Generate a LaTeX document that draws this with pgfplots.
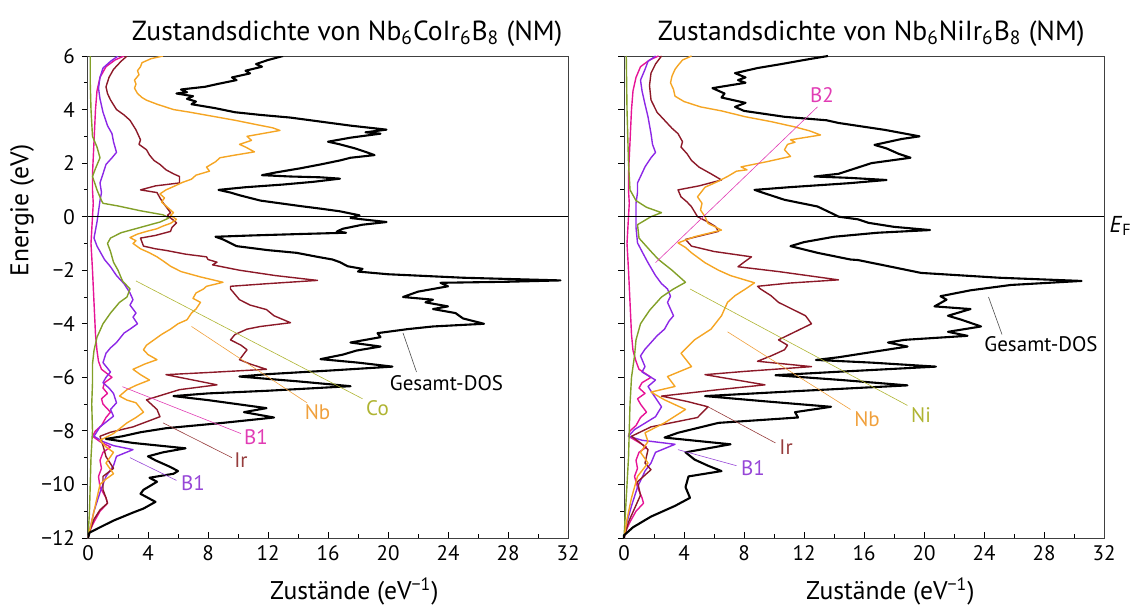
\documentclass[border=0pt]{standalone}
\usepackage{fontspec}
\setmainfont{PT Sans}
\usepackage{pgfplots}
\pgfplotsset{compat=1.18}
\definecolor{cNb}{RGB}{245,165,35}
\definecolor{cIr}{RGB}{140,25,40}
\definecolor{cCo}{RGB}{130,160,40}
\definecolor{cBa}{RGB}{140,40,230}
\definecolor{cBb}{RGB}{230,20,150}
\definecolor{lNb}{RGB}{240,160,60}
\definecolor{lCo}{RGB}{175,180,50}
\definecolor{lIr}{RGB}{150,60,60}
\definecolor{lBb}{RGB}{225,60,180}
\definecolor{lBa}{RGB}{150,70,215}
\tikzset{
  tot/.style={black, line width=1.05pt},
  part/.style={line width=0.7pt},
  ptr/.style={line width=0.3pt},
  lab/.style={font=\fontsize{10.5}{12}\selectfont, inner sep=1pt},
}
\pgfplotsset{dosaxis/.style={
  scale only axis, width=240pt, height=241pt,
  xmin=0, xmax=32, ymin=-12, ymax=6,
  xtick={0,4,...,32}, ytick={-12,-10,...,6},
  minor x tick num=1, minor y tick num=1,
  xtick align=inside, ytick align=outside, tick pos=left,
  major tick length=3pt, minor tick length=2pt,
  tick style={black, line width=0.4pt},
  axis line style={line width=0.5pt, black!75},
  tick label style={font=\fontsize{10.5}{12}\selectfont},
  label style={font=\fontsize{12.8}{14}\selectfont},
  title style={font=\fontsize{13.8}{15}\selectfont, anchor=base, yshift=2pt},
  xlabel={Zustände (eV\textsuperscript{−1})},
  xlabel style={at={(axis description cs:0.555,0)}, anchor=base, yshift=-30.5pt},
  /pgf/number format/assume math mode=true,
  every axis plot/.append style={line join=round},
}}
\begin{document}
\begin{tikzpicture}
\useasboundingbox (-44pt,-34pt) rectangle (525pt,269pt);
% ---------------- left panel ----------------
\begin{axis}[dosaxis, at={(0pt,0pt)}, anchor=south west,
  title={Zustandsdichte von Nb\textsubscript{6}CoIr\textsubscript{6}B\textsubscript{8} (NM)},
  title style={at={(axis description cs:0.54,1)}},
  ylabel={Energie (eV)}, ylabel style={at={(axis description cs:-0.1375,0.68)}, anchor=center},
  yticklabels={−12,−10,−8,−6,−4,−2,0,2,4,6}]
% B2 (magenta)
\addplot[part, cBb] coordinates {(2.4,6.0) (1.8,5.85) (1.2,5.6) (0.8,5.2) (0.6,4.7) (0.5,4.0) (0.45,3.4) (0.4,2.8) (0.35,2.2) (0.3,1.6) (0.3,1.0) (0.35,0.5) (0.3,0.0) (0.25,-0.5) (0.2,-1.0) (0.25,-1.5) (0.3,-2.0) (0.35,-2.6) (0.4,-3.2) (0.45,-3.8) (0.5,-4.4) (0.6,-5.0) (0.7,-5.4) (0.9,-5.7) (1.6,-6.0) (1.1,-6.2) (1.0,-6.4) (1.3,-6.6) (0.9,-6.8) (1.0,-7.0) (1.5,-7.3) (1.2,-7.5) (0.9,-7.8) (0.5,-8.0) (0.3,-8.2) (0.8,-8.4) (1.5,-8.6) (1.0,-8.8) (0.8,-9.1) (0.9,-9.4) (0.7,-9.7) (0.8,-10.1) (1.2,-10.5) (1.3,-10.7) (0.8,-11.0) (0.4,-11.4) (0.15,-11.7) (0,-12)};
% B1 (purple)
\addplot[part, cBa] coordinates {(2.0,6.0) (1.5,5.8) (1.0,5.55) (0.8,5.2) (0.7,4.8) (0.8,4.4) (1.0,3.9) (1.3,3.4) (1.6,3.1) (1.7,2.8) (1.9,2.4) (1.6,2.2) (1.2,1.95) (1.0,1.6) (0.8,1.26) (0.9,0.9) (0.8,0.6) (0.7,0.2) (0.6,-0.2) (0.5,-0.5) (0.4,-0.8) (0.6,-1.1) (0.8,-1.3) (1.1,-1.6) (1.5,-1.87) (1.9,-2.2) (2.4,-2.5) (2.8,-2.85) (3.0,-3.1) (2.8,-3.3) (3.2,-3.6) (3.0,-3.75) (3.3,-4.0) (2.8,-4.2) (2.4,-4.35) (1.9,-4.7) (1.5,-4.9) (1.2,-5.1) (1.0,-5.45) (1.5,-5.8) (1.2,-6.0) (1.0,-6.2) (1.4,-6.4) (1.7,-6.6) (1.9,-6.95) (1.5,-7.2) (1.7,-7.45) (0.8,-7.85) (0.4,-8.2) (1.0,-8.4) (1.7,-8.55) (3.0,-8.7) (1.9,-8.95) (1.7,-9.3) (1.2,-9.7) (0.8,-10.3) (0.4,-11.0) (0.2,-11.5) (0,-12)};
% Co (olive)
\addplot[part, cCo] coordinates {(0.15,6) (0.15,5) (0.2,4) (0.3,3) (0.6,2.6) (0.8,2.2) (0.5,1.8) (0.3,1.5) (0.6,1.0) (0.9,0.6) (1.0,0.5) (2.0,0.4) (3.5,0.22) (5.0,0.07) (5.4,-0.05) (4.8,-0.2) (3.5,-0.4) (2.2,-0.6) (1.5,-0.8) (1.3,-1.0) (1.5,-1.3) (1.7,-1.7) (2.0,-2.0) (2.3,-2.4) (2.8,-2.7) (2.6,-3.0) (2.1,-3.2) (1.5,-3.6) (1.0,-4.0) (0.6,-4.5) (0.4,-5.0) (0.3,-5.5) (0.3,-6.2) (0.25,-7) (0.3,-8) (0.2,-9) (0.15,-10) (0.1,-11) (0,-12)};
% Ir (dark red)
\addplot[part, cIr] coordinates {(2.6,6.0) (2.2,5.8) (1.7,5.5) (1.4,5.2) (1.2,4.85) (1.3,4.6) (1.5,4.36) (1.9,4.0) (2.4,3.8) (2.8,3.6) (3.2,3.24) (3.5,2.87) (3.4,2.7) (3.9,2.5) (4.1,2.3) (4.4,2.1) (4.8,1.95) (5.2,1.75) (5.7,1.6) (6.1,1.5) (6.1,1.26) (4.5,1.15) (3.5,1.0) (4.6,0.9) (4.8,0.7) (5.0,0.52) (5.3,0.3) (5.5,0.15) (5.3,0.05) (5.9,-0.23) (5.6,-0.4) (5.5,-0.55) (4.5,-0.7) (3.5,-0.8) (3.7,-1.1) (4.5,-1.2) (5.2,-1.26) (6.5,-1.4) (7.9,-1.5) (8.0,-1.6) (8.6,-1.7) (8.3,-1.8) (10.1,-2.0) (12.5,-2.2) (15.3,-2.38) (12.0,-2.5) (9.5,-2.6) (9.5,-2.7) (10.1,-3.1) (10.8,-3.3) (11.9,-3.47) (12.4,-3.7) (13.5,-3.96) (11.5,-4.1) (10.6,-4.2) (9.8,-4.4) (9.5,-4.6) (10.2,-4.8) (10.6,-4.97) (10.1,-5.34) (10.8,-5.5) (11.9,-5.7) (8.0,-5.82) (5.2,-5.9) (7.0,-6.1) (8.6,-6.28) (6.1,-6.46) (3.9,-6.84) (4.6,-7.2) (4.8,-7.47) (3.0,-7.85) (1.5,-8.05) (0.8,-8.2) (1.0,-8.55) (1.2,-8.96) (1.7,-9.4) (1.0,-9.7) (1.0,-10.2) (1.2,-10.5) (1.3,-10.7) (0.8,-10.95) (0.4,-11.3) (0.2,-11.6) (0,-12)};
% Nb (orange)
\addplot[part, cNb] coordinates {(5.0,6.0) (4.2,5.9) (3.6,5.75) (3.5,5.6) (3.3,5.45) (3.4,5.3) (3.1,5.1) (3.2,4.95) (3.1,4.8) (3.3,4.6) (3.6,4.45) (3.9,4.35) (4.6,4.2) (5.7,4.0) (6.8,3.9) (8.3,3.75) (9.8,3.6) (11.3,3.43) (12.3,3.32) (12.8,3.22) (11.8,3.12) (10.6,3.0) (10.9,2.85) (10.1,2.7) (10.5,2.6) (11.1,2.42) (9.8,2.3) (8.8,2.2) (8.5,2.05) (7.9,1.85) (8.1,1.7) (7.2,1.55) (6.9,1.4) (6.3,1.28) (5.8,1.15) (5.2,1.0) (4.8,0.85) (5.1,0.7) (4.9,0.55) (5.2,0.4) (5.7,0.15) (5.5,0.05) (5.9,-0.1) (5.5,-0.25) (5.0,-0.35) (4.6,-0.45) (3.9,-0.55) (3.3,-0.65) (2.8,-0.78) (3.2,-0.9) (3.0,-1.0) (3.5,-1.2) (4.1,-1.35) (4.6,-1.5) (5.0,-1.65) (5.5,-1.85) (6.2,-2.05) (7.5,-2.25) (9.0,-2.45) (7.9,-2.6) (7.7,-2.7) (7.2,-2.85) (7.0,-3.05) (7.5,-3.2) (7.2,-3.45) (6.9,-3.6) (6.6,-3.85) (6.0,-4.0) (5.5,-4.2) (4.9,-4.4) (4.4,-4.6) (3.9,-4.8) (3.7,-4.97) (4.0,-5.15) (4.6,-5.34) (3.8,-5.5) (3.0,-5.7) (3.5,-5.9) (4.1,-6.1) (3.2,-6.3) (2.6,-6.46) (2.1,-6.7) (2.6,-6.85) (3.2,-6.95) (3.7,-7.3) (3.2,-7.5) (2.6,-7.7) (1.7,-8.1) (0.8,-8.35) (1.2,-8.6) (1.7,-8.8) (1.2,-9.2) (1.7,-9.6) (1.2,-9.8) (0.8,-10.0) (0.6,-10.5) (0.4,-11.0) (0.2,-11.5) (0,-12)};
% total DOS
\addplot[tot] coordinates {(13.0,6.0) (12.0,5.85) (11.2,5.7) (11.6,5.6) (10.5,5.45) (10.8,5.35) (9.6,5.2) (9.9,5.1) (8.6,4.95) (7.8,4.85) (6.2,4.75) (6.6,4.65) (5.9,4.6) (7.0,4.5) (6.6,4.4) (7.2,4.3) (6.9,4.2) (8.5,4.05) (9.8,3.9) (11.5,3.8) (13.5,3.7) (15.5,3.55) (17.5,3.4) (19.9,3.25) (18.5,3.15) (19.5,3.1) (17.5,2.95) (16.0,2.8) (16.8,2.7) (17.8,2.55) (18.5,2.42) (19.1,2.3) (17.5,2.2) (16.8,2.1) (15.5,1.95) (14.1,1.8) (12.5,1.65) (11.6,1.55) (13.5,1.5) (15.5,1.47) (16.8,1.42) (15.0,1.3) (13.0,1.2) (10.5,1.1) (8.7,1.0) (9.5,0.9) (10.1,0.8) (11.5,0.6) (12.8,0.5) (14.1,0.4) (15.5,0.3) (16.8,0.2) (18.1,0.05) (17.5,-0.05) (19.9,-0.2) (18.3,-0.3) (17.0,-0.45) (16.6,-0.55) (17.2,-0.6) (14.0,-0.65) (11.0,-0.7) (8.5,-0.75) (9.0,-0.85) (9.9,-1.1) (12.0,-1.25) (13.9,-1.35) (15.3,-1.5) (16.3,-1.6) (16.8,-1.7) (17.3,-1.85) (18.3,-1.95) (18.0,-2.05) (20.0,-2.15) (25.0,-2.28) (31.5,-2.38) (28.0,-2.43) (23.5,-2.47) (24.0,-2.6) (22.0,-2.8) (21.0,-3.0) (23.0,-3.1) (22.5,-3.2) (24.0,-3.35) (23.0,-3.45) (24.5,-3.6) (25.0,-3.8) (26.4,-4.0) (23.0,-4.1) (21.3,-4.2) (19.3,-4.35) (19.5,-4.5) (17.5,-4.7) (19.5,-4.85) (17.9,-5.0) (17.0,-5.15) (15.5,-5.32) (18.0,-5.45) (20.3,-5.6) (16.0,-5.75) (12.0,-5.88) (10.1,-5.97) (14.0,-6.15) (17.5,-6.33) (12.0,-6.5) (8.0,-6.6) (5.7,-6.7) (8.0,-6.85) (11.9,-7.15) (10.4,-7.3) (12.4,-7.5) (9.0,-7.7) (5.2,-7.9) (3.5,-8.05) (2.3,-8.2) (1.2,-8.3) (3.0,-8.45) (6.5,-8.65) (5.0,-8.8) (4.0,-8.95) (4.5,-9.1) (5.5,-9.35) (6.0,-9.5) (5.7,-9.6) (4.1,-9.75) (4.6,-9.9) (3.7,-10.2) (3.5,-10.35) (4.5,-10.65) (3.7,-10.9) (3.0,-11.05) (1.7,-11.35) (0.8,-11.6) (0.1,-11.8) (0,-12)};
% Fermi level
\addplot[black, line width=0.7pt] coordinates {(0,0) (32,0)};
% pointers and labels
\draw[ptr, black!70] (axis cs:21.0,-4.34) -- (axis cs:21.9,-5.8);
\node[lab, anchor=north] at (axis cs:23.9,-5.85) {Gesamt-DOS};
\draw[ptr, lNb] (axis cs:6.9,-4.1) -- (axis cs:14.6,-6.95);
\node[lab, text=lNb] at (axis cs:15.3,-7.3) {Nb};
\draw[ptr, lCo] (axis cs:3.2,-2.4) -- (axis cs:18.3,-6.8);
\node[lab, text=lCo] at (axis cs:19.3,-7.15) {Co};
\draw[ptr, lBb] (axis cs:2.3,-6.35) -- (axis cs:10.2,-8.1);
\node[lab, text=lBb] at (axis cs:11.2,-8.25) {B1};
\draw[ptr, lIr] (axis cs:5.0,-7.7) -- (axis cs:9.6,-9.0);
\node[lab, text=lIr] at (axis cs:10.2,-9.1) {Ir};
\draw[ptr, lBa] (axis cs:2.8,-9.0) -- (axis cs:5.9,-9.85);
\node[lab, text=lBa] at (axis cs:7.0,-9.95) {B1};
\end{axis}
% ---------------- right panel ----------------
\begin{axis}[dosaxis, at={(268pt,0pt)}, anchor=south west, clip=false,
  title={Zustandsdichte von Nb\textsubscript{6}NiIr\textsubscript{6}B\textsubscript{8} (NM)},
  title style={at={(axis description cs:0.515,1)}},
  yticklabels={}]
% B2 (magenta)
\addplot[part, cBb] coordinates {(2.3,6.0) (1.7,5.85) (1.1,5.6) (0.8,5.2) (0.6,4.7) (0.5,4.0) (0.45,3.4) (0.4,2.8) (0.35,2.2) (0.3,1.6) (0.3,1.0) (0.35,0.5) (0.3,0.0) (0.25,-0.5) (0.2,-1.0) (0.25,-1.5) (0.3,-2.0) (0.35,-2.6) (0.4,-3.2) (0.45,-3.8) (0.5,-4.4) (0.6,-5.0) (0.8,-5.4) (1.0,-5.7) (1.8,-6.0) (1.2,-6.2) (1.0,-6.4) (1.4,-6.6) (0.9,-6.8) (1.1,-7.0) (1.5,-7.3) (1.1,-7.5) (0.8,-7.8) (0.4,-8.0) (0.3,-8.2) (0.9,-8.4) (1.5,-8.6) (1.0,-8.8) (0.8,-9.1) (0.9,-9.4) (0.7,-9.7) (0.9,-10.1) (1.2,-10.5) (1.3,-10.7) (0.8,-11.0) (0.4,-11.4) (0.15,-11.7) (0,-12)};
% B1 (purple)
\addplot[part, cBa] coordinates {(2.1,6.0) (1.6,5.8) (1.4,5.5) (1.1,5.1) (1.2,4.7) (1.4,4.2) (1.6,3.73) (1.8,3.1) (1.9,2.7) (2.1,2.4) (1.8,2.2) (1.4,1.86) (1.1,1.5) (0.9,1.26) (0.9,0.9) (0.8,0.5) (0.8,0.0) (0.8,-0.4) (0.9,-0.98) (1.2,-1.3) (1.6,-1.72) (2.1,-2.2) (2.5,-2.5) (2.9,-2.7) (3.1,-2.97) (2.9,-3.2) (3.3,-3.7) (3.0,-3.9) (2.7,-4.2) (2.2,-4.45) (1.8,-4.7) (1.4,-4.95) (1.1,-5.2) (1.4,-5.6) (1.2,-5.8) (2.1,-6.1) (1.6,-6.34) (1.9,-6.6) (2.5,-7.1) (2.1,-7.47) (0.7,-7.95) (0.3,-8.2) (1.2,-8.35) (3.4,-8.5) (2.1,-8.8) (1.8,-9.2) (1.4,-9.5) (0.9,-10.1) (0.5,-10.8) (0.2,-11.4) (0,-12)};
% Ni (olive)
\addplot[part, cCo] coordinates {(0.15,6) (0.2,4) (0.3,2) (0.4,1.0) (0.8,0.6) (1.5,0.35) (2.5,0.15) (1.8,0.0) (0.9,-0.3) (1.0,-0.8) (1.8,-1.3) (2.3,-1.6) (3.2,-2.0) (4.1,-2.45) (3.3,-2.7) (2.5,-3.0) (1.7,-3.5) (1.1,-4.0) (0.8,-4.6) (0.7,-5.2) (0.5,-6) (0.4,-7) (0.35,-8) (0.3,-9) (0.2,-10) (0.1,-11) (0,-12)};
% Ir (dark red)
\addplot[part, cIr] coordinates {(2.5,6.0) (2.1,5.7) (1.8,5.36) (1.7,4.9) (1.8,4.36) (2.2,3.9) (2.7,3.6) (3.2,3.3) (3.6,3.1) (3.9,2.8) (3.8,2.6) (4.2,2.35) (4.5,2.1) (5.0,1.85) (5.8,1.6) (6.5,1.37) (5.0,1.15) (3.6,1.0) (3.8,0.74) (4.2,0.55) (4.5,0.37) (4.9,0.0) (5.6,-0.2) (6.1,-0.37) (6.3,-0.55) (4.1,-0.85) (4.5,-1.1) (6.0,-1.3) (8.5,-1.5) (8.0,-1.7) (7.6,-1.87) (10.3,-2.05) (14.3,-2.36) (11.0,-2.48) (8.9,-2.6) (9.1,-2.7) (9.8,-2.95) (10.3,-3.2) (11.2,-3.45) (12.1,-3.7) (12.5,-4.0) (11.4,-4.3) (10.3,-4.6) (10.9,-4.8) (10.7,-4.97) (9.8,-5.2) (8.9,-5.4) (12.5,-5.6) (8.0,-5.78) (5.4,-5.9) (7.5,-6.1) (9.4,-6.28) (6.3,-6.46) (2.5,-6.7) (4.2,-6.9) (5.6,-7.1) (4.9,-7.5) (1.8,-7.85) (0.5,-8.2) (1.1,-8.45) (1.6,-8.7) (1.4,-9.2) (1.8,-9.45) (0.9,-9.9) (1.1,-10.4) (0.7,-10.9) (0.3,-11.4) (0,-12)};
% Nb (orange)
\addplot[part, cNb] coordinates {(4.5,6.0) (3.9,5.85) (3.6,5.65) (3.4,5.5) (3.2,5.25) (3.1,5.0) (3.3,4.75) (3.4,4.5) (4.0,4.3) (5.1,4.1) (6.5,3.95) (8.1,3.73) (9.8,3.55) (11.4,3.35) (12.4,3.2) (13.1,3.05) (11.1,2.87) (11.4,2.78) (10.9,2.7) (10.7,2.5) (11.1,2.25) (9.5,2.05) (7.8,1.86) (8.2,1.75) (7.5,1.7) (6.9,1.5) (6.2,1.3) (5.4,1.1) (4.9,0.74) (5.2,0.5) (5.1,0.25) (5.4,0.0) (5.6,-0.25) (6.5,-0.5) (4.7,-0.75) (3.6,-0.98) (4.1,-1.15) (4.5,-1.35) (5.4,-1.72) (6.3,-2.0) (7.1,-2.2) (8.7,-2.47) (8.1,-2.7) (7.4,-2.95) (6.9,-3.2) (6.5,-3.7) (5.8,-4.2) (4.7,-4.6) (3.8,-5.1) (4.5,-5.6) (2.9,-5.97) (3.4,-6.34) (1.8,-6.55) (2.7,-6.84) (4.1,-7.2) (2.7,-7.7) (1.4,-8.07) (1.6,-8.4) (1.1,-8.8) (1.6,-9.2) (0.9,-9.7) (0.5,-10.5) (0.2,-11.3) (0,-12)};
% total DOS
\addplot[tot] coordinates {(13.6,6.0) (12.0,5.85) (10.5,5.7) (8.9,5.55) (7.4,5.36) (8.1,5.2) (7.6,5.1) (8.1,5.0) (5.9,4.8) (6.7,4.6) (6.5,4.45) (8.1,4.25) (7.4,4.1) (8.0,3.95) (10.7,3.73) (13.5,3.6) (14.3,3.5) (17.4,3.24) (19.7,3.0) (18.5,2.9) (16.7,2.68) (17.5,2.55) (18.3,2.35) (19.1,2.2) (16.5,2.0) (14.3,1.6) (12.7,1.5) (15.0,1.45) (17.5,1.37) (15.0,1.25) (11.0,1.1) (8.7,1.0) (9.5,0.85) (10.7,0.63) (12.9,0.38) (13.8,0.14) (14.3,0.0) (15.6,-0.1) (16.3,-0.23) (18.0,-0.38) (20.4,-0.5) (16.9,-0.6) (14.0,-0.75) (12.0,-0.95) (11.1,-1.1) (12.9,-1.35) (15.1,-1.6) (15.6,-1.62) (17.8,-1.87) (19.8,-2.1) (25.0,-2.28) (30.5,-2.4) (25.8,-2.55) (23.1,-2.75) (21.1,-2.97) (21.5,-3.1) (20.7,-3.35) (23.1,-3.45) (21.6,-3.7) (22.5,-3.85) (23.8,-4.1) (21.6,-4.3) (22.9,-4.45) (18.7,-4.6) (17.6,-4.7) (18.9,-4.85) (16.7,-5.04) (14.3,-5.25) (12.8,-5.35) (16.5,-5.45) (20.8,-5.6) (14.0,-5.8) (10.1,-5.92) (14.5,-6.1) (18.9,-6.3) (12.0,-6.5) (5.4,-6.7) (9.5,-6.9) (13.8,-7.1) (11.4,-7.3) (11.6,-7.5) (6.3,-7.7) (3.6,-8.07) (2.7,-8.25) (7.1,-8.5) (4.1,-8.8) (4.7,-9.07) (5.6,-9.3) (6.5,-9.5) (4.3,-9.7) (4.1,-10.1) (4.4,-10.5) (3.4,-10.8) (1.8,-11.2) (0.6,-11.6) (0,-11.9) (0,-12)};
% Fermi level
\addplot[black, line width=0.7pt] coordinates {(0,0) (32,0)};
\node[anchor=west, inner sep=0pt, font=\fontsize{11.5}{13}\selectfont] at (axis cs:32.35,-0.35) {\textit{E}\textsubscript{F}};
% pointers and labels
\draw[ptr, black!70] (axis cs:24.3,-3.0) -- (axis cs:25.2,-4.4);
\node[lab, anchor=north] at (axis cs:27.8,-4.4) {Gesamt-DOS};
\draw[ptr, lNb] (axis cs:6.9,-4.3) -- (axis cs:15.1,-7.2);
\node[lab, text=lNb] at (axis cs:16.2,-7.55) {Nb};
\draw[ptr, lCo] (axis cs:4.4,-2.7) -- (axis cs:18.9,-7.05);
\node[lab, text=lCo] at (axis cs:19.8,-7.4) {Ni};
\draw[ptr, lIr] (axis cs:5.6,-7.1) -- (axis cs:10.1,-8.45);
\node[lab, text=lIr] at (axis cs:10.8,-8.6) {Ir};
\draw[ptr, lBa] (axis cs:3.6,-8.7) -- (axis cs:7.5,-9.3);
\node[lab, text=lBa] at (axis cs:8.6,-9.4) {B1};
\draw[ptr, lBb] (axis cs:2.1,-1.72) -- (axis cs:12.9,4.1);
\node[lab, text=lBb] at (axis cs:13.2,4.55) {B2};
\end{axis}
\end{tikzpicture}
\end{document}
